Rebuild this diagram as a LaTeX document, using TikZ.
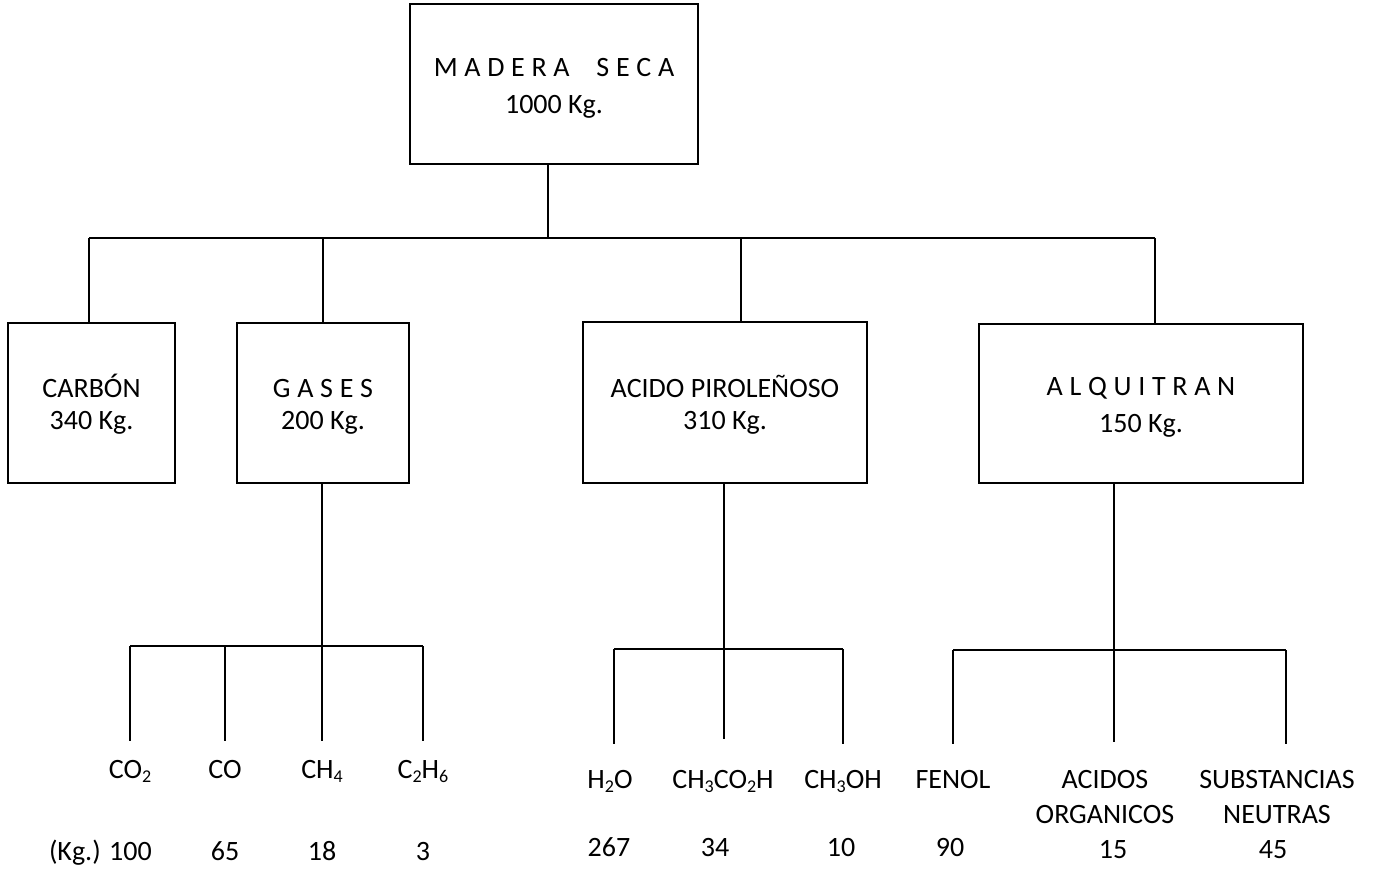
\documentclass[tikz,border=0pt]{standalone}
\usepackage{fontspec}
\setmainfont{Carlito}
% chemical subscript, set smaller and lowered
\newcommand{\chsub}[1]{\raisebox{-4.5pt}{\fontsize{18}{18}\selectfont #1}}
% extra tracking for the spaced-out titles
\newcommand{\lgap}{\hspace{6.7pt}}
% fixed top/bottom struts so two-line boxes centre the same way
\newcommand{\topstrut}[1]{\rule{0pt}{#1}}
\newcommand{\botstrut}{\rule[-6pt]{0pt}{6pt}}
\begin{document}
\begin{tikzpicture}[x=1pt,y=-1pt,
  txt/.style={font=\fontsize{28}{32}\selectfont},
  box/.style={draw, line width=1.6pt, align=center, inner sep=0pt, txt},
  leaf/.style={txt, inner sep=0pt, anchor=base},
  leafpair/.style={txt, inner sep=0pt, anchor=center, align=center},
  link/.style={line width=1.5pt}]
\useasboundingbox (0,0) rectangle (1378,870);

% ---- boxes ----
\node[box, minimum width=288pt, minimum height=160pt] (madera) at (554,84)
  {\topstrut{27pt}M\lgap A\lgap D\lgap E\lgap R\lgap A\lgap\lgap\lgap\lgap S\lgap E\lgap C\lgap A\\[5pt]1000 Kg.\botstrut};
\node[box, minimum width=167pt, minimum height=160pt] (carbon) at (91.5,403)
  {\topstrut{26pt}CARBÓN\\340 Kg.\botstrut};
\node[box, minimum width=172pt, minimum height=160pt] (gases) at (323,403)
  {\topstrut{26pt}G\lgap A\lgap S\lgap E\lgap S\\200 Kg.\botstrut};
\node[box, minimum width=284pt, minimum height=161pt] (acido) at (725,402.5)
  {\topstrut{27pt}ACIDO PIROLEÑOSO\\310 Kg.\botstrut};
\node[box, minimum width=324pt, minimum height=159pt] (alquitran) at (1141,403.5)
  {\topstrut{26pt}A\lgap L\lgap Q\lgap U\lgap I\lgap T\lgap R\lgap A\lgap N\\[5pt]150 Kg.\botstrut};

% ---- products of the gases ----
\node[leaf] (co2)  at (130,778) {CO\chsub{2}};
\node[leaf] (co)   at (225,778) {CO};
\node[leaf] (ch4)  at (322,778) {CH\chsub{4}};
\node[leaf] (c2h6) at (423,778) {C\chsub{2}H\chsub{6}};
\node[leaf, anchor=base east] (v-co2) at (152,860) {(Kg.) 100};
\node[leaf] (v-co)   at (225,860) {65};
\node[leaf] (v-ch4)  at (322,860) {18};
\node[leaf] (v-c2h6) at (423,860) {3};

% ---- products of the pyroligneous acid ----
\node[leaf] (h2o)     at (610,788) {H\chsub{2}O};
\node[leaf] (ch3co2h) at (723,788) {CH\chsub{3}CO\chsub{2}H};
\node[leaf] (ch3oh)   at (843,788) {CH\chsub{3}OH};
\node[leaf] (v-h2o)     at (609,856) {267};
\node[leaf] (v-ch3co2h) at (715,856) {34};
\node[leaf] (v-ch3oh)   at (841,856) {10};

% ---- products of the tar ----
\node[leaf] (fenol) at (953,788) {FENOL};
\node[leafpair] (acidos) at (1105,798.5) {\topstrut{20pt}ACIDOS\\[3pt]ORGANICOS\botstrut};
\node[leafpair] (neutras) at (1277,798.5) {\topstrut{20pt}SUBSTANCIAS\\[3pt]NEUTRAS\botstrut};
\node[leaf] (v-fenol)   at (950,856) {90};
\node[leaf] (v-acidos)  at (1113,858) {15};
\node[leaf] (v-neutras) at (1273,858) {45};

% ---- first level tree ----
\coordinate (busT) at (548,238);
\coordinate (dC) at (89,238);
\coordinate (dG) at (323,238);
\coordinate (dA) at (741,238);
\coordinate (dQ) at (1155,238);
\draw[link] (madera.south -| busT) -- (busT);
\draw[link] (dC) -- (dQ);
\foreach \d/\n in {dC/carbon, dG/gases, dA/acido, dQ/alquitran}
  \draw[link] (\d) -- (\d |- \n.north);

% ---- gases branch ----
\coordinate (gB) at (322,646);
\coordinate (g1) at (130,646);
\coordinate (g2) at (225,646);
\coordinate (g4) at (423,646);
\coordinate (gLow) at (0,741);
\draw[link] (gases.south -| gB) -- (gB);
\draw[link] (g1) -- (g4);
\foreach \p in {g1,g2,gB,g4}
  \draw[link] (\p) -- (\p |- gLow);

% ---- acid branch ----
\coordinate (aB) at (724,649);
\coordinate (a1) at (614,649);
\coordinate (a3) at (843,649);
\coordinate (aLow) at (0,744);
\coordinate (aLowM) at (0,739);
\draw[link] (acido.south -| aB) -- (aB);
\draw[link] (a1) -- (a3);
\draw[link] (a1) -- (a1 |- aLow);
\draw[link] (a3) -- (a3 |- aLow);
\draw[link] (aB) -- (aB |- aLowM);

% ---- tar branch ----
\coordinate (qB) at (1114,650);
\coordinate (q1) at (953,650);
\coordinate (q3) at (1286,650);
\coordinate (qLow) at (0,744);
\coordinate (qLowM) at (0,742);
\draw[link] (alquitran.south -| qB) -- (qB);
\draw[link] (q1) -- (q3);
\draw[link] (q1) -- (q1 |- qLow);
\draw[link] (q3) -- (q3 |- qLow);
\draw[link] (qB) -- (qB |- qLowM);
\end{tikzpicture}
\end{document}
